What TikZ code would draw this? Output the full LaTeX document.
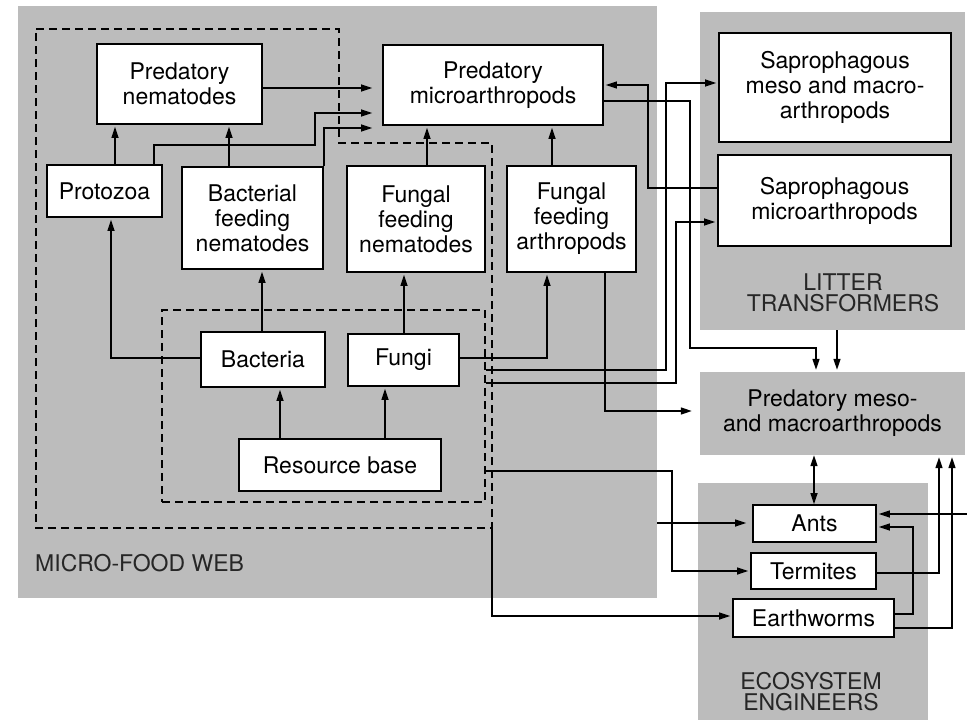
\documentclass[tikz,border=0pt]{standalone}
\usepackage{fontspec}
\setmainfont{TeX Gyre Heros}
\usetikzlibrary{arrows.meta}
\definecolor{panel}{RGB}{188,188,188}
\begin{document}
\begin{tikzpicture}[x=1pt,y=-1pt,
  txt/.style={font=\fontsize{23}{25}\selectfont, align=center, inner sep=0pt},
  box/.style={txt, draw, fill=white, line width=1.7pt, rectangle},
  panelbox/.style={rectangle, fill=panel, draw=none, inner sep=0pt},
  caps/.style={font=\fontsize{23}{21}\selectfont, align=center, inner sep=0pt, text=black!85},
  arr/.style={line width=1.4pt, -{Triangle[length=11pt,width=7pt]}, shorten >=2pt},
  dbl/.style={line width=1.4pt, {Triangle[length=11pt,width=7pt]}-{Triangle[length=11pt,width=7pt]}},
  dashline/.style={line width=1.4pt, dash pattern=on 8pt off 5pt},
]
\useasboundingbox[fill=white] (0,0) rectangle (967,720);

% grey group panels
\node[panelbox, minimum width=639pt, minimum height=592pt] (mfw) at (337.5,302) {};
\node[panelbox, minimum width=265pt, minimum height=318pt] (litter) at (832.5,171) {};
\node[panelbox, txt, minimum width=265pt, minimum height=83pt] (pmeso) at (832.5,413.5) {Predatory meso-\\and macroarthropods};
\node[panelbox, minimum width=230pt, minimum height=237pt] (eco) at (813,601.5) {};

% group labels
\node[caps, anchor=west] (mfwlabel) at (35,563) {MICRO-FOOD WEB};
\node[caps] (litterlabel) at (843,293) {LITTER\\TRANSFORMERS};
\node[caps] (ecolabel) at (811,692) {ECOSYSTEM\\ENGINEERS};

% dashed groupings
\draw[dashline] (36,29) -- (339,29) -- (339,143) -- (492,143) -- (492,528) -- (36,528) -- cycle;
\coordinate (outerSE) at (492,528);
\node[draw, dashline, rectangle, minimum width=323pt, minimum height=192pt, inner sep=0pt] (microbes) at (323.5,406) {};

% functional groups
\node[box, minimum width=165pt, minimum height=80pt] (pn) at (179.5,84) {Predatory\\nematodes};
\node[box, minimum width=115pt, minimum height=52pt] (prot) at (104.5,191) {Protozoa};
\node[box, minimum width=141pt, minimum height=102pt] (bfn) at (252.5,218) {Bacterial\\feeding\\nematodes};
\node[box, minimum width=220pt, minimum height=80pt] (pm) at (493,85) {Predatory\\microarthropods};
\node[box, minimum width=138pt, minimum height=106pt] (ffn) at (416,219) {Fungal\\feeding\\nematodes};
\node[box, minimum width=129pt, minimum height=106pt] (ffa) at (571.5,219) {Fungal\\feeding\\arthropods};
\node[box, minimum width=232pt, minimum height=109pt] (smac) at (835,87.5) {Saprophagous\\meso and macro-\\arthropods};
\node[box, minimum width=233pt, minimum height=91pt] (smic) at (834.5,200.5) {Saprophagous\\microarthropods};
\node[box, minimum width=124pt, minimum height=55pt] (bac) at (263,359.5) {Bacteria};
\node[box, minimum width=111pt, minimum height=52pt] (fungi) at (403.5,360) {Fungi};
\node[box, minimum width=202pt, minimum height=52pt] (res) at (340,465) {Resource base};
\node[box, minimum width=123pt, minimum height=37pt] (ants) at (814.5,523.5) {Ants};
\node[box, minimum width=125pt, minimum height=36pt] (term) at (813.5,571) {Termites};
\node[box, minimum width=161pt, minimum height=38pt] (worm) at (813.5,618) {Earthworms};
\coordinate (ext) at (967,514);

% micro-food web links
\draw[arr] (prot.north -| 115,0) -- (pn.south -| 115,0);
\draw[arr] (bfn.north -| 229,0) -- (pn.south -| 229,0);
\draw[arr, shorten >=10pt] (pn.east |- 0,88) -- (pm.west |- 0,88);
\draw[arr, shorten >=10pt] (prot.north -| 154,0) |- (315,145) |- (pm.west |- 0,113);
\draw[arr, shorten >=10pt] (bfn.north east) |- (pm.west |- 0,128);
\draw[arr] (ffn.north -| 427,0) -- (pm.south -| 427,0);
\draw[arr] (ffa.north -| 552,0) -- (pm.south -| 552,0);
\draw[arr] (bac.west |- 0,358) -| (prot.south -| 111,0);
\draw[arr] (bac.north -| 262,0) -- (bfn.south -| 262,0);
\draw[arr] (fungi.north -| 404,0) -- (ffn.south -| 404,0);
\draw[arr] (fungi.east |- 0,358) -| (ffa.south -| 547,0);
\draw[arr] (res.north -| 280,0) -- (bac.south -| 280,0);
\draw[arr] (res.north -| 385,0) -- (fungi.south -| 385,0);

% links to litter transformers
\draw[arr] (smic.west |- 0,188) -| (648,85) -- (pm.east |- 0,85);
\draw[arr] (microbes.east |- 0,370) -| (666,83) -- (smac.west |- 0,83);
\draw[arr] (microbes.east |- 0,383) -| (676,222) -- (smic.west |- 0,222);

% links to predatory meso- and macroarthropods
\draw[arr] (pm.east |- 0,101) -| (690,348) -| (pmeso.north -| 816,0);
\draw[arr] (litter.south -| 837,0) -- (pmeso.north -| 837,0);
\draw[arr, shorten >=8pt] (ffa.south -| 605,0) |- (pmeso.west |- 0,411);

% links to ecosystem engineers
\draw[arr] (microbes.east |- 0,471) -| (672,571) -- (term.west |- 0,571);
\draw[arr, shorten >=6pt] (mfw.east |- 0,523) -- (ants.west |- 0,523);
\draw[arr] (outerSE) |- (worm.west |- 0,616);
\draw[dbl] (pmeso.south -| 814,0) -- (ants.north -| 814,0);
\draw[arr] (term.east |- 0,573) -| (pmeso.south -| 939,0);
\draw[arr] (worm.east |- 0,628) -| (pmeso.south -| 952,0);
\draw[arr] (worm.east |- 0,614) -| (913,527) -- (ants.east |- 0,527);
\draw[arr] (ext) -- (ants.east |- 0,514);
\end{tikzpicture}
\end{document}
